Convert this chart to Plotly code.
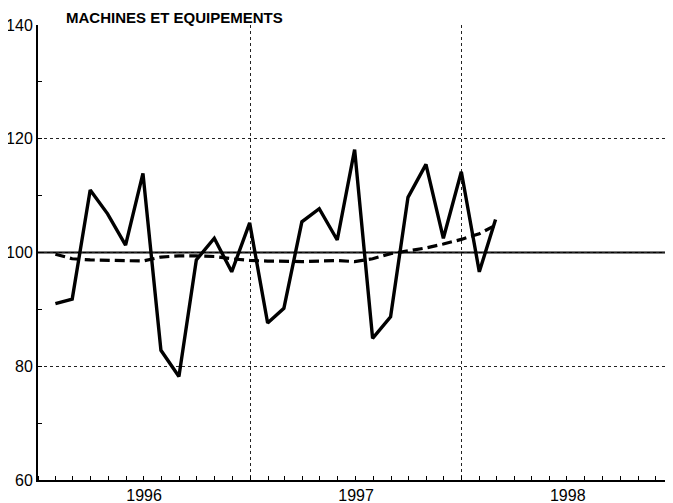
import pandas as pd
import plotly.graph_objects as go

TITLE = "MACHINES ET EQUIPEMENTS"
months = pd.date_range("1996-01", periods=26, freq="MS").strftime("%Y-%m").tolist()
index_values = [91.0, 91.8, 111.0, 106.8, 101.3, 113.9, 82.8, 78.2, 98.7, 102.5,
                96.6, 105.2, 87.6, 90.2, 105.4, 107.7, 102.2, 118.1, 84.9, 88.7,
                109.7, 115.5, 102.5, 114.2, 96.6, 105.8]
trend_values = [99.7, 98.9, 98.7, 98.6, 98.5, 98.5, 99.2, 99.4, 99.4, 99.3,
                98.9, 98.6, 98.5, 98.4, 98.4, 98.5, 98.6, 98.4, 98.9, 99.8,
                100.3, 100.8, 101.5, 102.3, 103.3, 104.8]
BASE = 100
y_range = [60, 140]
x_range = ["1996-01-01", "1998-12-31"]

# monthly values plotted at the end of their month
x = (pd.to_datetime(months) + pd.offsets.MonthEnd(0)).strftime("%Y-%m-%d").tolist()

FONT = "Liberation Sans"
BODY_MARGIN = 8  # default page margin around the figure div

fig = go.Figure()
fig.add_trace(go.Scatter(x=x, y=trend_values, mode="lines",
                         line=dict(color="black", width=3.2, dash="10px,5px"),
                         showlegend=False, hoverinfo="skip"))
fig.add_trace(go.Scatter(x=x, y=index_values, mode="lines",
                         line=dict(color="black", width=3.4),
                         showlegend=False, hoverinfo="skip"))
fig.add_hline(y=BASE, line=dict(color="black", width=2), layer="below")

fig.update_layout(
    width=673 - BODY_MARGIN, height=503 - BODY_MARGIN,
    margin=dict(l=38 - BODY_MARGIN, r=0, t=25 - BODY_MARGIN, b=23),
    paper_bgcolor="white", plot_bgcolor="white",
    font=dict(family=FONT, size=16, color="black"),
    showlegend=False, hovermode=False,
    annotations=[dict(text="<b>" + TITLE + "</b>", xref="paper", yref="paper",
                      x=0, y=1, xanchor="left", yanchor="bottom", yshift=-3, xshift=26,
                      showarrow=False, font=dict(family=FONT, size=15, color="black"))],
)
fig.update_xaxes(
    type="date", range=x_range, automargin=False,
    tick0="1996-01-01", dtick="M12", tickformat="%Y", ticklabelmode="period",
    ticks="inside", ticklen=4, tickcolor="black", tickwidth=1,
    showgrid=True, gridcolor="#222", gridwidth=1, griddash="dot",
    showline=True, linecolor="black", linewidth=2,
    minor=dict(dtick="M1", ticks="inside", ticklen=4, tickcolor="black", tickwidth=1, showgrid=False),
    zeroline=False, tickfont=dict(size=16),
)
fig.update_yaxes(
    range=y_range, dtick=20, tick0=60, automargin=False,
    ticks="inside", ticklen=4, tickcolor="black",
    showgrid=True, gridcolor="#222", gridwidth=1, griddash="dot",
    showline=True, linecolor="black", linewidth=2,
    minor=dict(dtick=10, ticks="inside", ticklen=4, tickcolor="black", showgrid=False),
    zeroline=False, tickfont=dict(size=16),
)

fig.write_html("out.html", config={"displayModeBar": False})
